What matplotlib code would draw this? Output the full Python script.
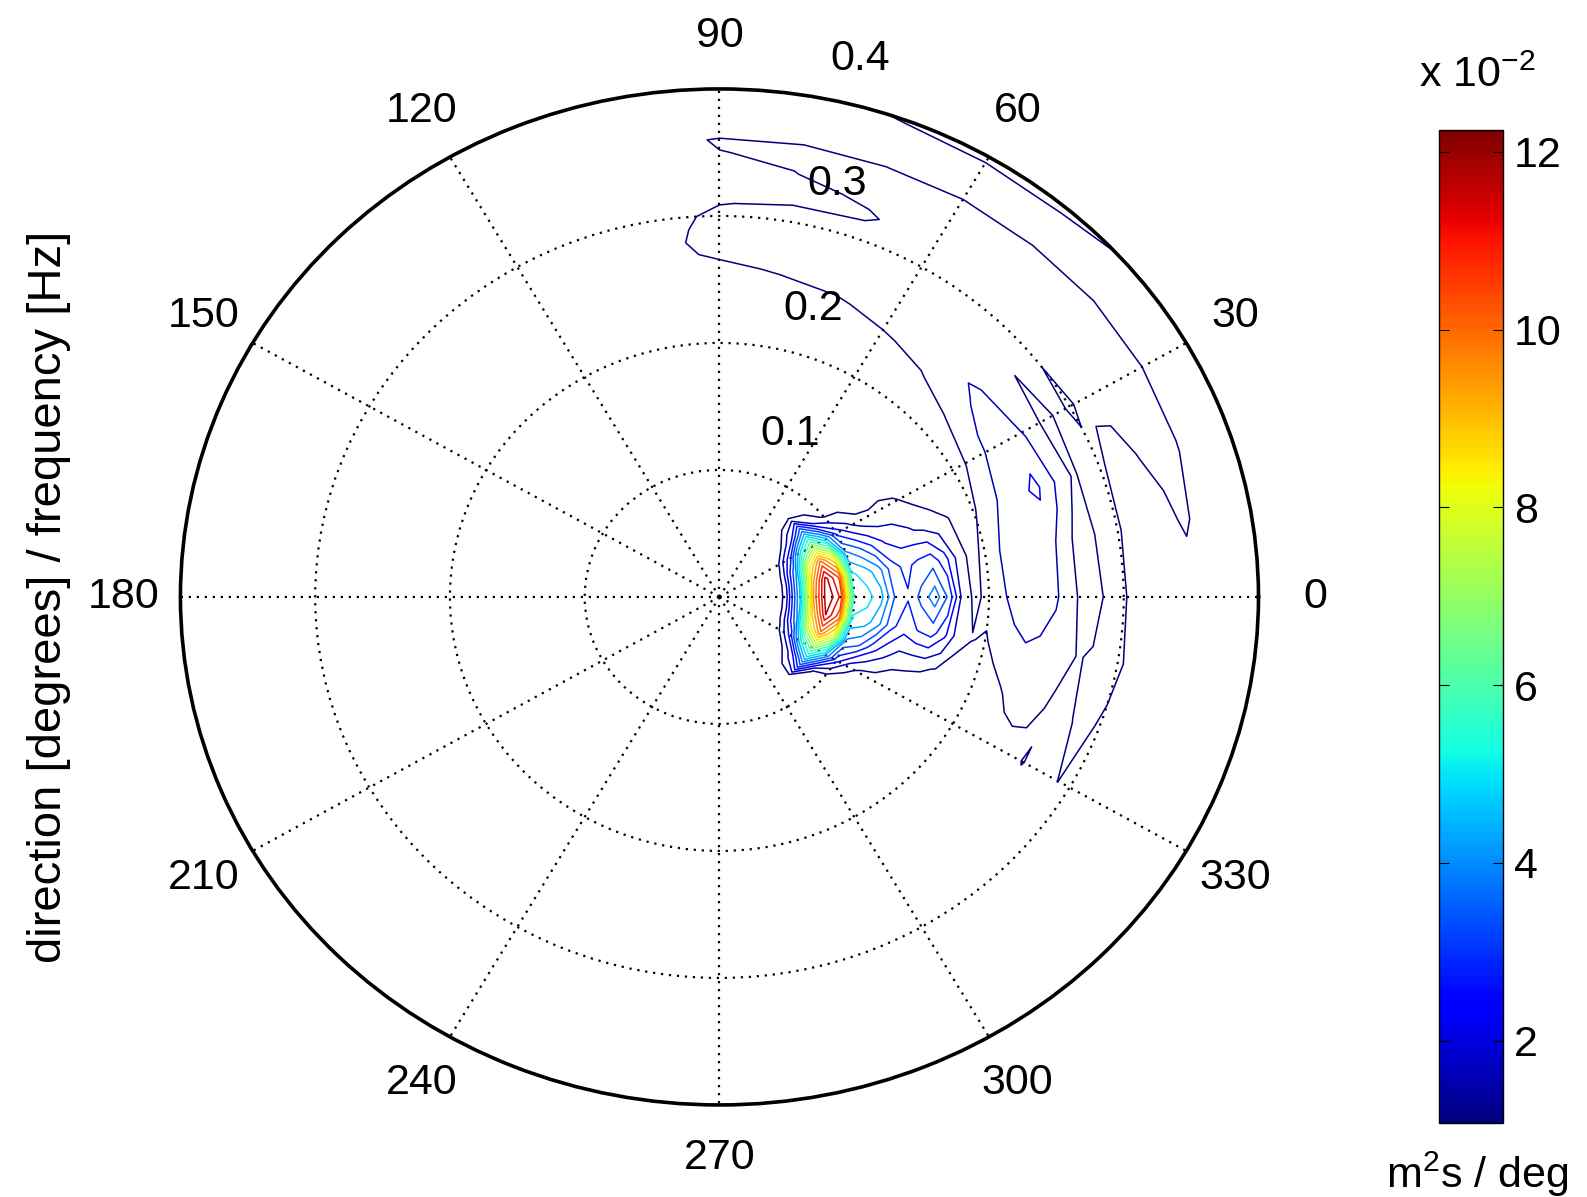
import numpy as np
import matplotlib
matplotlib.use("Agg")
import matplotlib.pyplot as plt
from matplotlib.colors import Normalize
from matplotlib.cm import ScalarMappable

plt.rcParams['font.family'] = ['Liberation Sans', 'DejaVu Sans']
plt.rcParams['mathtext.default'] = 'regular'

# frequency bins (Hz) and direction bins (degrees)
freqs = [0.03, 0.04, 0.05, 0.06, 0.07, 0.08, 0.09, 0.10, 0.11, 0.12,
         0.13, 0.14, 0.15, 0.16, 0.17, 0.18, 0.19, 0.20, 0.21, 0.22,
         0.23, 0.24, 0.25, 0.26, 0.27, 0.28, 0.29, 0.30, 0.31, 0.32,
         0.33, 0.34, 0.35, 0.36, 0.37, 0.38, 0.39, 0.40]
dirs = [-60, -50, -40, -30, -20, -10, 0, 10, 20, 30, 40, 50, 60, 70, 80, 90, 100, 110]

# spectral density (x 1e-2 m^2 s / deg), one row per frequency
energy = [
    [0, 0, 0, 0, 0, 0, 0, 0, 0, 0, 0, 0, 0, 0, 0, 0, 0, 0],
    [0, 0, 0, 0, 0, 0, 0, 0, 0, 0, 0, 0, 0, 0, 0, 0, 0, 0],
    [0, 0, 0.4, 0.9, 1.35, 1.5, 1.55, 1.5, 1.35, 0.95, 0.45, 0, 0, 0, 0, 0, 0, 0],
    [0, 0.3, 1.0, 2.3, 3.6, 4.3, 4.5, 4.4, 3.8, 2.5, 1.1, 0.35, 0, 0, 0, 0, 0, 0],
    [0, 0.9, 2.0, 5.0, 7.8, 9.0, 9.6, 9.2, 8.0, 5.2, 2.2, 0.9, 0, 0, 0, 0, 0, 0],
    [0.2, 1.0, 3.8, 6.8, 10.0, 11.7, 12.2, 11.9, 10.2, 7.0, 3.9, 1.1, 0.3, 0, 0, 0, 0, 0],
    [0.1, 0.7, 1.1, 4.6, 8.0, 10.3, 11.0, 10.5, 8.3, 4.8, 1.6, 0.7, 0.2, 0, 0, 0, 0, 0],
    [0, 0.5, 0.6, 2.4, 3.8, 4.9, 5.4, 5.1, 4.0, 2.6, 0.9, 0.4, 0.1, 0, 0, 0, 0, 0],
    [0, 0.3, 0.5, 1.3, 3.4, 4.7, 5.2, 4.7, 3.4, 1.8, 0.8, 0.3, 0.1, 0, 0, 0, 0, 0],
    [0, 0.2, 0.4, 0.9, 2.4, 4.0, 4.6, 4.1, 2.7, 1.3, 0.5, 0.2, 0, 0, 0, 0, 0, 0],
    [0, 0.1, 0.3, 0.8, 1.8, 2.9, 3.3, 3.0, 2.1, 1.2, 0.5, 0.2, 0, 0, 0, 0, 0, 0],
    [0, 0, 0.2, 0.6, 1.4, 2.4, 2.8, 2.6, 1.9, 1.25, 0.6, 0.2, 0, 0, 0, 0, 0, 0],
    [0, 0, 0.2, 0.5, 1.3, 2.8, 3.5, 2.9, 1.7, 1.15, 0.5, 0.2, 0, 0, 0, 0, 0, 0],
    [0, 0, 0.1, 0.4, 1.2, 3.0, 4.2, 3.1, 1.5, 0.9, 0.4, 0.2, 0, 0, 0, 0, 0, 0],
    [0, 0, 0.1, 0.3, 1.0, 2.3, 3.2, 2.4, 1.3, 0.7, 0.3, 0.1, 0, 0, 0, 0, 0, 0],
    [0, 0, 0.1, 0.3, 0.8, 1.3, 1.5, 1.4, 1.1, 0.5, 0.3, 0.1, 0, 0, 0, 0, 0, 0],
    [0, 0, 0.2, 0.4, 0.6, 1.1, 0.9, 0.85, 0.8, 0.6, 0.4, 0.3, 0.2, 0.1, 0, 0, 0, 0],
    [0, 0, 0.2, 0.5, 0.7, 1.0, 1.3, 1.25, 1.0, 0.8, 0.6, 0.4, 0.3, 0.1, 0, 0, 0, 0],
    [0, 0, 0.3, 0.6, 0.8, 1.3, 1.55, 1.6, 1.3, 1.05, 0.8, 0.5, 0.35, 0.2, 0.1, 0, 0, 0],
    [0, 0, 0.3, 0.7, 1.0, 1.5, 1.8, 1.85, 1.65, 1.4, 1.1, 0.7, 0.4, 0.25, 0.1, 0, 0, 0],
    [0, 0, 0.4, 0.8, 1.2, 1.6, 1.9, 1.95, 1.9, 1.7, 1.5, 1.0, 0.7, 0.3, 0.15, 0.05, 0, 0],
    [0, 0, 0.4, 0.85, 1.3, 1.55, 1.85, 2.0, 2.1, 1.9, 1.6, 1.25, 1.0, 0.6, 0.3, 0.1, 0, 0],
    [0, 0, 0.5, 0.9, 1.2, 1.4, 1.7, 1.8, 2.3, 1.9, 1.7, 1.4, 1.25, 1.0, 0.8, 0.4, 0.1, 0],
    [0, 0, 0.6, 1.1, 1.0, 1.2, 1.3, 1.3, 1.9, 1.6, 1.5, 1.5, 1.35, 1.25, 1.15, 0.9, 0.3, 0],
    [0, 0, 0.5, 0.8, 0.8, 1.05, 0.9, 0.9, 1.3, 1.2, 1.3, 1.35, 1.4, 1.3, 1.3, 1.2, 0.8, 0],
    [0, 0, 0.4, 0.7, 1.1, 1.1, 0.95, 1.0, 1.0, 0.9, 1.1, 1.25, 1.35, 1.3, 1.35, 1.25, 0.9, 0],
    [0, 0, 0.5, 1.08, 1.2, 1.2, 1.2, 1.25, 1.3, 1.2, 1.2, 1.2, 1.3, 1.3, 1.35, 1.25, 0.85, 0],
    [0, 0, 0.3, 0.7, 1.0, 1.2, 1.15, 1.15, 1.2, 1.0, 1.1, 1.3, 1.3, 1.25, 1.3, 1.2, 0.8, 0],
    [0, 0, 0.2, 0.4, 0.6, 0.9, 0.8, 0.85, 0.9, 1.2, 1.25, 1.35, 1.35, 1.15, 1.15, 1.05, 0.6, 0],
    [0, 0, 0, 0.2, 0.3, 0.5, 0.5, 0.6, 0.8, 1.35, 1.4, 1.4, 1.4, 1.0, 0.9, 0.6, 0.3, 0],
    [0, 0, 0, 0.1, 0.2, 0.4, 0.4, 0.7, 1.1, 1.45, 1.5, 1.45, 1.4, 1.15, 0.95, 0.4, 0.2, 0],
    [0, 0, 0, 0, 0.2, 0.4, 0.5, 0.9, 1.3, 1.5, 1.5, 1.4, 1.35, 1.25, 1.1, 0.6, 0.3, 0],
    [0, 0, 0, 0, 0.1, 0.3, 0.6, 1.2, 1.35, 1.4, 1.45, 1.35, 1.3, 1.25, 1.2, 1.05, 0.5, 0],
    [0, 0, 0, 0, 0, 0.2, 0.4, 0.9, 1.1, 1.2, 1.2, 1.15, 1.15, 1.1, 1.15, 1.15, 0.6, 0],
    [0, 0, 0, 0, 0, 0.1, 0.2, 0.3, 0.4, 0.6, 0.7, 0.6, 0.6, 0.6, 0.6, 0.5, 0.2, 0],
    [0, 0, 0, 0, 0, 0, 0.1, 0.2, 0.2, 0.3, 0.3, 0.3, 0.3, 0.3, 0.2, 0.1, 0, 0],
    [0, 0, 0, 0, 0, 0, 0, 0.1, 0.3, 0.4, 0.6, 0.8, 0.8, 0.6, 0.3, 0.1, 0, 0],
    [0, 0, 0, 0, 0, 0, 0, 0.2, 0.3, 0.5, 0.95, 1.4, 1.35, 1.2, 0.5, 0.1, 0, 0],
]

ring_ticks = [0.1, 0.2, 0.3, 0.4]
angle_ticks = [0, 30, 60, 90, 120, 150, 180, 210, 240, 270, 300, 330]
cmin, cmax = 1.07, 12.25

fig = plt.figure(figsize=(15.87, 11.97), dpi=100)
ax = fig.add_axes([0.1137, 0.0769, 0.6793, 0.8488], projection='polar')
ax.set_aspect('auto')  # the original figure is a little wider than tall

norm = Normalize(cmin, cmax)
levels = np.linspace(cmin, cmax, 21)[:-1]
ax.contour(np.deg2rad(dirs), freqs, np.array(energy), levels=levels,
           cmap='jet', norm=norm, linewidths=1.1)

ax.set_ylim(0, 0.4)
ax.set_yticks(ring_ticks)
ax.set_yticklabels([])
ax.set_xticks(np.deg2rad(angle_ticks))
ax.set_xticklabels([])
ax.grid(True, color='black', linestyle=(0, (1, 2.6)), linewidth=1.6)
ax.spines['polar'].set_linewidth(2.6)

for a in angle_ticks:
    ax.text(np.deg2rad(a), 0.442, str(a), ha='center', va='center', fontsize=31)
for r in ring_ticks:
    ax.annotate('%.1f' % r, xy=(np.deg2rad(80), r), xytext=(34, 27),
                textcoords='offset points', ha='center', va='center',
                fontsize=31, annotation_clip=False)

fig.text(0.0306, 0.501, 'direction [degrees] / frequency [Hz]', rotation=90,
         ha='center', va='center', fontsize=34)

# colorbar
cax = fig.add_axes([0.9068, 0.0615, 0.0403, 0.8303])
sm = ScalarMappable(norm=norm, cmap='jet')
cb = fig.colorbar(sm, cax=cax)
cb.set_ticks([2, 4, 6, 8, 10, 12])
cax.tick_params(labelsize=31, direction='in', left=True, right=True, length=7, pad=8)
cb.outline.set_linewidth(1)
fig.text(0.9307, 0.9365, 'x 10$^{-2}$', ha='center', va='center', fontsize=31)
fig.text(0.9307, 0.019, 'm$^2$s / deg', ha='center', va='center', fontsize=31)

fig.savefig('out.png', dpi=100)
